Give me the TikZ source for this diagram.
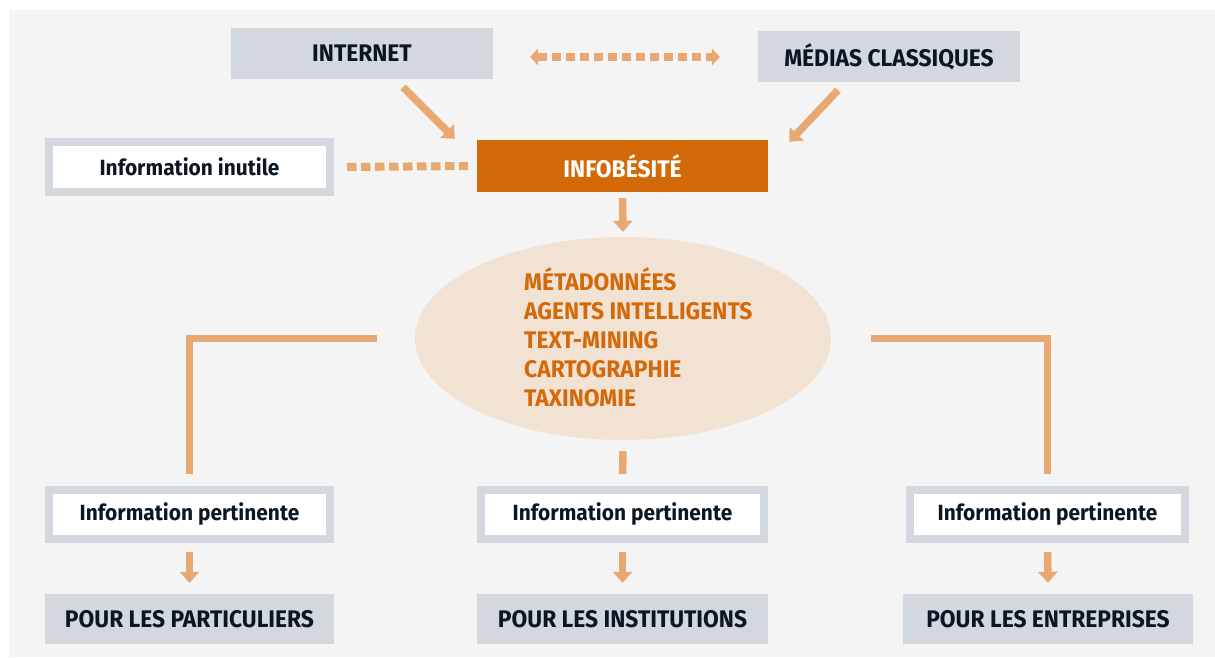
\documentclass[tikz,border=0pt]{standalone}
\usepackage{fontspec}
\newfontfamily\dfont{Fira Sans}[FakeStretch=0.95]
\usetikzlibrary{arrows.meta,calc,shapes.geometric}
\definecolor{panelc}{HTML}{F4F4F4}
\definecolor{greyc}{HTML}{D3D8DF}
\definecolor{inkc}{HTML}{0A1622}
\definecolor{orangec}{HTML}{D4690A}
\definecolor{arrowc}{HTML}{E8A871}
\definecolor{ellc}{HTML}{F2E2D4}
\tikzset{
  txt/.style={font=\dfont\bfseries\fontsize{22}{26}\selectfont, text=inkc},
  captxt/.style={font=\dfont\bfseries\fontsize{24}{28}\selectfont},
  greybox/.style={txt, captxt, fill=greyc, draw=none, inner sep=0pt},
  framebox/.style={txt, fill=white, draw=greyc, line width=8pt, inner sep=0pt},
  arr/.style={draw=arrowc, line width=7.5pt, -{Triangle[width=19pt,length=11pt]}},
  link/.style={draw=arrowc, line width=7.5pt},
  dashlink/.style={draw=arrowc, line width=8pt, dash pattern=on 9.5pt off 4.5pt},
}
\begin{document}
\begin{tikzpicture}[x=1pt,y=-1pt]
\useasboundingbox (0,0) rectangle (1215,657);
\fill[white] (0,0) rectangle (1215,657);
\fill[panelc] (9,10) rectangle (1215,657);

\node[greybox, minimum width=262pt, minimum height=51pt] (internet) at (362,53.5) {INTERNET};
\node[greybox, minimum width=262pt, minimum height=51pt] (medias) at (889,56.5) {MÉDIAS CLASSIQUES};
\node[framebox, minimum width=281pt, minimum height=50pt] (inutile) at (189.5,167) {Information inutile};
\node[txt, captxt, fill=orangec, text=white, inner sep=0pt, minimum width=291pt, minimum height=52pt] (infob) at (622.5,166) {INFOBÉSITÉ};

\node[ellipse, fill=ellc, inner sep=0pt, minimum width=416pt, minimum height=203pt] (el) at (623,338.5) {};
\node[text=orangec, align=left, anchor=west, inner sep=0pt, font=\dfont\bfseries\fontsize{24}{29}\selectfont] (eltext) at (524,337.5)
  {MÉTADONNÉES\\AGENTS INTELLIGENTS\\TEXT-MINING\\CARTOGRAPHIE\\TAXINOMIE};

\node[framebox, minimum width=281pt, minimum height=49pt] (ip1) at (189.5,514.5) {Information pertinente};
\node[framebox, minimum width=283pt, minimum height=49pt] (ip2) at (622.5,514.5) {Information pertinente};
\node[framebox, minimum width=275pt, minimum height=49pt] (ip3) at (1047.5,514.5) {Information pertinente};

\node[greybox, minimum width=289pt, minimum height=50pt] (p1) at (189.5,619) {POUR LES PARTICULIERS};
\node[greybox, minimum width=291pt, minimum height=50pt] (p2) at (622.5,619) {POUR LES INSTITUTIONS};
\node[greybox, minimum width=290pt, minimum height=50pt] (p3) at (1048,619) {POUR LES ENTREPRISES};

% top connectors
\draw[dashlink, {Triangle[width=17pt,length=8pt]}-{Triangle[width=17pt,length=8pt]}]
  ($(internet.east)+(37,3.5)$) -- ($(medias.west)+(-38,0.5)$);
\draw[arr] ($(internet.south)+(41,8)$) -- ($(infob.north west)+(-22,-1)$);
\draw[arr] ($(medias.south)+(-51,8)$) -- ($(infob.north east)+(21,2)$);
\draw[dashlink] ($(inutile.east)+(13,0)$) -- ($(infob.west)+(-9,0)$);
\draw[arr] ($(infob.south)+(0,6)$) -- ($(el.north)+(0,-5)$);

% branches
\draw[link] ($(el.west)+(-38,0)$) -| ($(ip1.north)+(0,-12)$);
\draw[link] ($(el.east)+(40,0)$) -| ($(ip3.north)+(0,-12)$);
\draw[link] ($(el.south)+(0,11)$) -- ($(ip2.north)+(0,-12)$);

% bottom arrows
\draw[arr] ($(ip1.south)+(0,9)$) -- ($(p1.north)+(0,-11)$);
\draw[arr] ($(ip2.south)+(0,9)$) -- ($(p2.north)+(0,-11)$);
\draw[arr] ($(ip3.south)+(0,9)$) -- ($(p3.north)+(0,-11)$);
\end{tikzpicture}
\end{document}
